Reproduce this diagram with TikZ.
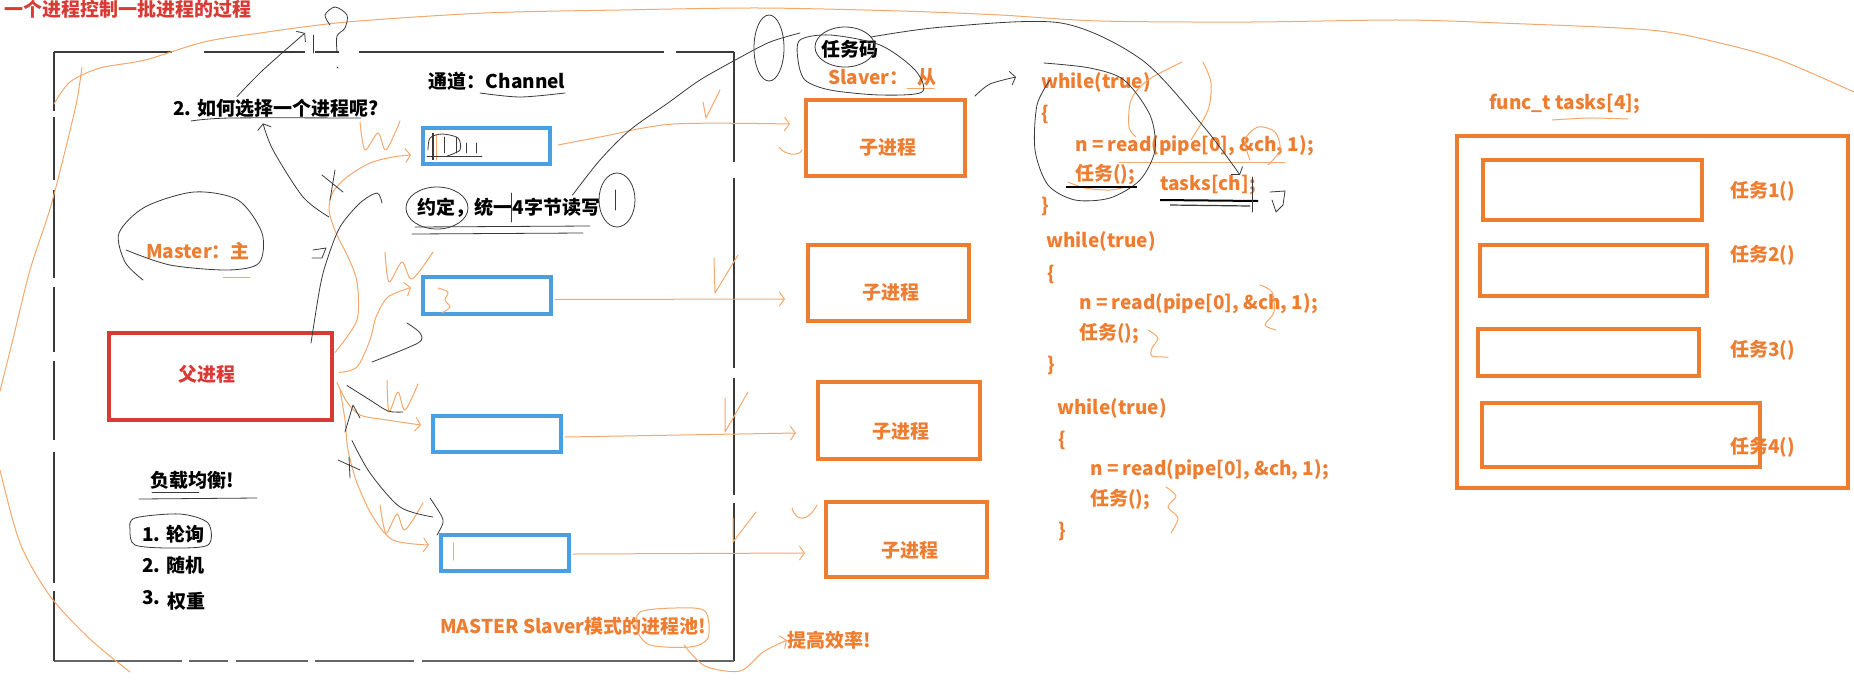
\documentclass[tikz,border=0pt]{standalone}
\usepackage{fontspec}
\setmainfont{Noto Sans CJK SC}
\usetikzlibrary{arrows.meta,calc}
\definecolor{ored}{HTML}{D93A35}
\definecolor{oor}{HTML}{ED7D31}
\definecolor{oblue}{HTML}{4A9FE0}
\definecolor{pen}{HTML}{F4A86E}
\definecolor{ink}{HTML}{3A3A3A}
\newcommand\fsz{\fontsize{19}{20}\selectfont}
\tikzset{
 txt/.style={inner sep=0pt, font=\bfseries\fsz},
 ktxt/.style={txt, text=black},
 otxt/.style={txt, text=oor},
 rtxt/.style={txt, text=ored},
 codel/.style={otxt, anchor=west},
 bbox/.style={draw=oblue, line width=4pt, inner sep=0pt},
 obox/.style={draw=oor, line width=4pt, inner sep=0pt},
 rbox/.style={draw=ored, line width=4pt, inner sep=0pt},
 opencil/.style={draw=pen, line width=1pt, line cap=round, line join=round},
 kpencil/.style={draw=ink, line width=0.8pt, line cap=round, line join=round},
 barb/.style={-{Straight Barb[length=5pt,width=14pt]}},
 frameline/.style={draw=ink, line width=1.1pt},
}
\begin{document}
\begin{tikzpicture}[x=1pt,y=-1pt]
\useasboundingbox (0,0) rectangle (1854,681);
\fill[white] (0,0) rectangle (1854,681);

% ---------- big pool frame ----------
\coordinate (fnw) at (54,52);
\coordinate (fne) at (734,52);
\coordinate (fsw) at (54,661);
\coordinate (fse) at (734,661);
\draw[frameline, dash pattern=on 118pt off 32pt on 101pt off 10pt on 24pt off 20pt on 305pt off 12pt on 100pt] (fnw) -- (fne);
\draw[frameline, dash pattern=on 110pt off 16pt on 190pt off 10pt on 117pt off 8pt on 200pt] (fne) -- (fse);
\draw[frameline, draw=gray!80!black, line width=1.6pt, dash pattern=on 128pt off 7pt on 39pt off 8pt on 72pt off 7pt on 99pt off 8pt on 400pt] (fsw) -- (fse);
\draw[frameline, dash pattern=on 59pt off 6pt on 63pt off 10pt on 88pt off 9pt on 65pt off 9pt on 79pt off 12pt on 131pt off 8pt on 100pt] (fnw) -- (fsw);

% ---------- texts (left part) ----------
\node[rtxt, anchor=west] (title) at (4,9) {一个进程控制一批进程的过程};
\node[ktxt] (chan) at (497,81) {通道：Channel};
\node[ktxt] (how) at (276,108) {2. 如何选择一个进程呢?};
\node[ktxt] (agree) at (509,208) {约定，统一4字节读写};
\node[otxt] (master) at (198,251) {Master：主};
\node[ktxt] (lb) at (192,480) {负载均衡!};
\node[ktxt, anchor=west] (lb1) at (142,534) {1. 轮询};
\node[ktxt, anchor=west] (lb2) at (142,565) {2. 随机};
\node[ktxt, anchor=west] (lb3) at (142,600) {\raisebox{4pt}{3.}\, 权重};
\node[otxt, anchor=west] (pool) at (440,626) {MASTER Slaver模式的进程池!};
\node[otxt, anchor=west] (eff) at (787,640) {提高效率!};
\node[ktxt] (code) at (850,49) {任务码};
\node[otxt, anchor=west] (slave) at (828,77) {Slaver：\ \ 从};

% ---------- parent and channels ----------
\node[rbox, minimum width=223pt, minimum height=87pt] (parent) at (220.5,376.5) {};
\node[rtxt] (ptext) at (207,374) {父进程};
\node[bbox, minimum width=127pt, minimum height=36pt] (b1) at (486.5,146) {};
\node[bbox, minimum width=128pt, minimum height=37pt] (b2) at (487,295.5) {};
\node[bbox, minimum width=128pt, minimum height=36pt] (b3) at (497,434) {};
\node[bbox, minimum width=128pt, minimum height=36pt] (b4) at (505,553) {};

% ---------- children ----------
\node[obox, minimum width=159pt, minimum height=76pt] (c1) at (885.5,138) {};
\node[obox, minimum width=161pt, minimum height=76pt] (c2) at (888.5,283) {};
\node[obox, minimum width=162pt, minimum height=77pt] (c3) at (899,420.5) {};
\node[obox, minimum width=161pt, minimum height=75pt] (c4) at (906.5,539.5) {};
\node[otxt] (c1t) at (888,147) {子进程};
\node[otxt] (c2t) at (891,292) {子进程};
\node[otxt] (c3t) at (901,431) {子进程};
\node[otxt] (c4t) at (910,550) {子进程};

% ---------- code ----------
\node[codel] (w1) at (1041,82) {while(true)};
\node[codel] (o1) at (1041,114) {\{};
\node[codel] (r1) at (1075,146) {n = read(pipe[0], \&ch, 1);};
\node[codel] (j1) at (1075,175) {任务();};
\node[codel] (tk) at (1160,185) {tasks[ch];};
\node[codel] (e1) at (1041,206) {\}};
\node[codel] (w2) at (1046,241) {while(true)};
\node[codel] (o2) at (1047,274) {\{};
\node[codel] (r2) at (1079,304) {n = read(pipe[0], \&ch, 1);};
\node[codel] (j2) at (1079,334) {任务();};
\node[codel] (e2) at (1047,365) {\}};
\node[codel] (w3) at (1057,408) {while(true)};
\node[codel] (o3) at (1058,440) {\{};
\node[codel] (r3) at (1090,470) {n = read(pipe[0], \&ch, 1);};
\node[codel] (j3) at (1090,500) {任务();};
\node[codel] (e3) at (1058,531) {\}};

% ---------- task table ----------
\node[codel] (ft) at (1489,104) {func\_t tasks[4];};
\node[obox, minimum width=391pt, minimum height=352pt] (tp) at (1652.5,312) {};
\node[obox, minimum width=219pt, minimum height=60pt] (t1) at (1592.5,190) {};
\node[obox, minimum width=227pt, minimum height=51pt] (t2) at (1593.5,270.5) {};
\node[obox, minimum width=221pt, minimum height=47pt] (t3) at (1588.5,352.5) {};
\node[obox, minimum width=278pt, minimum height=64pt] (t4) at (1621,435) {};
\node[codel] (t1t) at (1730,191) {任务1()};
\node[codel] (t2t) at (1730,255) {任务2()};
\node[codel] (t3t) at (1730,350) {任务3()};
\node[codel] (t4t) at (1730,447) {任务4()};

% ================= orange pen strokes =================
\draw[opencil] plot[smooth] coordinates {(54,104) (70,82) (100,68) (145,60) (204,42) (260,33) (347,22) (485,13) (620,10) (760,8) (900,11) (1000,15) (1100,21) (1250,22) (1400,20) (1500,23) (1650,30) (1720,43) (1780,60) (1854,92)};
\draw[opencil] plot[smooth] coordinates {(82,67) (77,100) (67,143) (50,209) (30,270) (13,339) (0,391)};
\draw[opencil] plot[smooth] coordinates {(0,470) (20,543) (50,596) (90,639) (130,672)};

% parent -> channels
\draw[opencil,barb] plot[smooth] coordinates {($(parent.east)+(1,-24)$) (357,320) (357,282) (348,257) (336,233) (329,210) (333,192) (347,177) (370,163) (393,157) ($(b1.west)+(-10,9)$)};
\draw[opencil,barb] plot[smooth] coordinates {($(parent.east)+(5,-4)$) (357,367) (370,340) (376,317) (388,297) ($(b2.west)+(-10,-8)$)};
\draw[opencil,barb] plot[smooth] coordinates {($(parent.east)+(3,6)$) (347,402) (360,415) (387,420) ($(b3.west)+(-10,-9)$)};
\draw[opencil,barb] plot[smooth] coordinates {($(parent.east)+(6,13)$) (345,420) (348,450) (357,483) (373,517) (393,540) ($(b4.west)+(-10,-8)$)};

% W marks
\draw[opencil] plot[smooth] coordinates {(360,122) (365,150) (378,133) (386,150) (400,121)};
\draw[opencil] plot[smooth] coordinates {(385,252) (389,282) (402,262) (412,279) (433,252)};
\draw[opencil] plot[smooth] coordinates {(387,380) (389,412) (398,392) (405,410) (418,384)};
\draw[opencil] plot[smooth] coordinates {(380,505) (386,533) (397,514) (405,530) (423,503)};

% channels -> children
\draw[opencil,barb] plot[smooth] coordinates {($(b1.east)+(6,-1)$) (600,137) (673,124) ($(c1.west)+(-14,-14)$)};
\draw[opencil,barb] ($(b2.east)+(2,4)$) -- ($(c2.west)+(-21,16)$);
\draw[opencil,barb] ($(b3.east)+(2,3)$) -- ($(c3.west)+(-20,12.5)$);
\draw[opencil,barb] ($(b4.east)+(2,1)$) -- ($(c4.west)+(-19,13.5)$);
\draw[opencil] (779,147) .. controls (785,156) and (800,156) .. ($(c1.west)+(-2,12)$);

% V marks
\draw[opencil] (703,102) -- (706,118) -- (720,90);
\draw[opencil] (714,258) -- (715,293) -- (738,255);
\draw[opencil] (725,398) -- (725,432) -- (748,392);
\draw[opencil] (733,518) -- (733,542) -- (756,512);
\draw[opencil] (792,508) .. controls (796,522) and (808,522) .. (817,505);

% marks inside channels
\draw[opencil] (436,135) -- (436,160);
\draw[opencil] plot[smooth] coordinates {(438,288) (448,292) (445,300) (450,307) (442,313)};
\draw[opencil] (453,543) -- (453,560);

% pool -> efficiency
\draw[opencil] plot[smooth cycle] coordinates {(640,612) (675,608) (705,611) (708,638) (690,647) (650,645) (637,630)};
\draw[opencil,barb] plot[smooth] coordinates {(684,645) (705,666) (740,671) (763,652) (eff.west)};

% underlines
\draw[opencil] (223,277) -- (250,277);
\draw[opencil] (907,88) -- (934,88);
\draw[opencil] plot[smooth] coordinates {(1552,120) (1590,118) (1628,119)};

% code scribbles
\draw[opencil] (1119,162) -- (1285,162);
\draw[opencil] plot[smooth] coordinates {(1182,62) (1148,80) (1131,100) (1129,127) (1136,137)};
\draw[opencil] plot[smooth] coordinates {(1203,62) (1211,83) (1208,110) (1191,140)};
\draw[opencil] plot[smooth] coordinates {(1250,160) (1245,140) (1258,127) (1275,132) (1280,150) (1268,165)};
\draw[opencil] plot[smooth] coordinates {(1260,285) (1272,292) (1274,312) (1265,325) (1276,330)};
\draw[opencil] plot[smooth] coordinates {(1148,330) (1158,338) (1152,348) (1152,356) (1168,357)};
\draw[opencil] plot[smooth] coordinates {(1166,487) (1176,496) (1168,507) (1178,518) (1171,533)};
\draw[opencil] plot[smooth] coordinates {(1068,182) (1085,188) (1110,190) (1130,186)};

% ================= black pen strokes =================
% top loop
\draw[kpencil] (313,35) -- (313,53);
\draw[kpencil] plot[smooth] coordinates {(337,52) (337,36) (345,28) (347,15) (335,7) (325,15) (330,25)};
\draw[kpencil] (337,67) -- (338,68);
% arrows around "how"
\draw[kpencil,barb] plot[smooth] coordinates {($(how.north)+(-39,-2)$) (263,70) (305,33)};
\draw[kpencil,barb] plot[smooth] coordinates {(329,217) (303,197) (273,150) ($(how.south)+(-13,6)$)};
\draw[kpencil] plot[smooth] coordinates {($(parent.north east)+(-23,12)$) (320,287) (327,260) (340,227) (360,203) (377,193) (382,203)};
% crosses
\draw[kpencil] (322,175) -- (343,192); \draw[kpencil] (335,170) -- (330,200);
\draw[kpencil] (338,460) -- (360,470); \draw[kpencil] (349,457) -- (350,478);
\draw[kpencil] (345,432) -- (353,405) -- (360,418);
\draw[kpencil] (313,250) -- (326,248) -- (322,258) -- (312,258);
% curves from parent
\draw[kpencil] plot[smooth] coordinates {($(parent.east)+(13,9)$) (370,400) (388,411) (403,412)};
\draw[kpencil] plot[smooth] coordinates {($(parent.east)+(18,64)$) (370,473) (400,507) (433,517)};
\draw[kpencil] plot[smooth] coordinates {(430,498) (441,515) (443,523) (437,535)};
\draw[kpencil] plot[smooth] coordinates {(372,362) (418,343) (420,333) (407,323)};
% underlines
\draw[kpencil] plot[smooth] coordinates {(480,93) (520,97) (565,93)};
\draw[kpencil] plot[smooth] coordinates {(191,121) (230,118) (361,118)};
\draw[kpencil] (415,227) -- (590,226);
\draw[kpencil] (412,234) -- (583,233);
\draw[kpencil] (511,193) -- (511,222);
\draw[kpencil] (139,499) -- (257,498);
\draw[kpencil] (152,492) -- (199,492);
% ovals
\draw[kpencil] (437,208) ellipse [x radius=31, y radius=21];
\draw[kpencil] (617,200) ellipse [x radius=18, y radius=27];
\draw[kpencil] (615,190) -- (615,210);
\draw[kpencil] plot[smooth] coordinates {(143,280) (125,262) (119,233) (145,207) (194,192) (238,200) (262,233) (259,263) (228,270) (170,265) (126,250)};
\draw[kpencil] plot[smooth cycle] coordinates {(135,518) (180,514) (208,523) (208,545) (170,548) (135,545) (130,530)};
% channel 1 scratches
\draw[ink, line width=2pt] (433,133) -- (433,160);
\draw[kpencil] (444,137) -- (444,153);
\draw[kpencil] (456,137) -- (456,153);
\draw[kpencil] (466,143) -- (466,153);
\draw[kpencil] (476,143) -- (476,153);
\draw[kpencil] (427,156) -- (482,156);
\draw[kpencil] plot[smooth] coordinates {(428,150) (430,138) (442,134) (458,138) (460,150) (447,156)};
% agree -> task code
\draw[kpencil] plot[smooth] coordinates {($(agree.north east)+(-28,-3)$) (600,160) (630,130) (668,103) (700,80) (739,58) (770,42) (800,33)};
\draw[kpencil] (769,48) ellipse [x radius=15, y radius=33];
\draw[kpencil] (845,47) ellipse [x radius=30, y radius=20];
\draw[kpencil] plot[smooth cycle] coordinates {(800,40) (830,35) (880,45) (915,70) (922,92) (880,95) (830,90) (805,80) (798,60)};
% task code -> tasks[ch]
\draw[kpencil,barb] plot[smooth] coordinates {(871,37) (943,27) (1061,23) (1142,60) (1204,127) ($(tk.north)+(32,0)$)};
% child1 -> while
\draw[kpencil,barb] plot[smooth] coordinates {($(c1.north east)+(8,-2)$) (990,84) ($(w1.west)+(-25,-5)$)};
% ring round the loop body
\draw[kpencil] plot[smooth] coordinates {(1044,63) (1090,68) (1124,80) (1150,115) (1155,150) (1140,180) (1110,198) (1075,200) (1048,185) (1035,150) (1037,105) (1050,80)};
% heavy underlines
\draw[black, line width=2.5pt] (1066,187) -- (1137,187);
\draw[black, line width=2pt] (1160,200) -- (1258,201);
\draw[ink, line width=1.2pt] (1170,205) -- (1250,206);
\draw[kpencil] (1252,177) -- (1252,212);
\draw[kpencil] (1270,192) -- (1285,191) -- (1283,205) -- (1276,212) -- (1272,200);
\end{tikzpicture}
\end{document}
